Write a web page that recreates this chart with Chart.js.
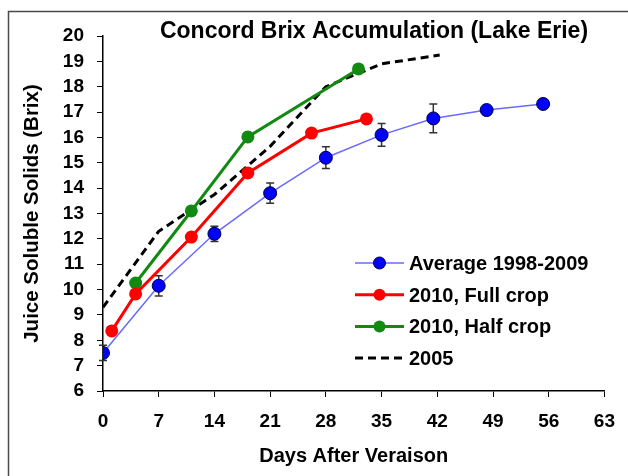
<!DOCTYPE html>
<html><head><meta charset="utf-8">
<script src="https://cdn.jsdelivr.net/npm/chart.js@4.4.1/dist/chart.umd.min.js"></script>
<style>html,body{margin:0;padding:0;background:#fff;}#wrap{width:628px;height:476px;position:relative;}</style>
</head><body><div id="wrap"><canvas id="c" width="628" height="476"></canvas></div>
<script>
const chartTitle = 'Concord Brix Accumulation (Lake Erie)';
const xAxisTitle = 'Days After Veraison';
const yAxisTitle = 'Juice Soluble Solids (Brix)';
const seriesNames = ['Average 1998-2009', '2010, Full crop', '2010, Half crop', '2005'];

const avgDays = [0, 7, 14, 21, 28, 35, 41.5, 48.2, 55.3];
const avgBrix = [7.5, 10.15, 12.2, 13.8, 15.2, 16.1, 16.75, 17.08, 17.32];
const avgErr  = [0.3, 0.4, 0.3, 0.4, 0.43, 0.45, 0.57, 0, 0];

const fullDays = [1.1, 4.1, 11.1, 18.2, 26.2, 33.1];
const fullBrix = [8.37, 9.83, 12.07, 14.6, 16.17, 16.73];

const halfDays = [4.1, 11.1, 18.2, 32.1];
const halfBrix = [10.26, 13.1, 16.02, 18.7];

const y2005Days = [0, 7, 14, 21, 28, 35, 42.3];
const y2005Brix = [9.3, 12.3, 13.75, 15.65, 18.0, 18.9, 19.25];

const xTicksMin = 0, xTicksMax = 63, xStep = 7;
const yTicksMin = 6, yTicksMax = 20, yStep = 1;

const FONT = "'Liberation Sans', Arial, sans-serif";
const pts = (xs, ys) => xs.map((x, i) => ({x: x, y: ys[i]}));

const frame = {
  id: 'frame',
  beforeDraw(chart) {
    const ctx = chart.ctx;
    ctx.save();
    ctx.fillStyle = '#fff';
    ctx.fillRect(0, 0, chart.width, chart.height);
    ctx.strokeStyle = '#4a4a4a';
    ctx.lineWidth = 1.5;
    ctx.strokeRect(8.5, 11.5, 700, 600);
    ctx.restore();
  }
};

const errorBars = {
  id: 'errorBars',
  beforeDatasetsDraw(chart) {
    const ctx = chart.ctx, xs = chart.scales.x, ys = chart.scales.y;
    ctx.save();
    ctx.strokeStyle = '#333';
    ctx.lineWidth = 1.5;
    avgDays.forEach((d, i) => {
      const e = avgErr[i];
      if (!e) return;
      const px = xs.getPixelForValue(d);
      const top = ys.getPixelForValue(avgBrix[i] + e);
      const bot = ys.getPixelForValue(avgBrix[i] - e);
      ctx.beginPath();
      ctx.moveTo(px, top); ctx.lineTo(px, bot);
      ctx.moveTo(px - 4, top); ctx.lineTo(px + 4, top);
      ctx.moveTo(px - 4, bot); ctx.lineTo(px + 4, bot);
      ctx.stroke();
    });
    ctx.restore();
  }
};

const titleAndLegend = {
  id: 'titleAndLegend',
  afterDraw(chart) {
    const ctx = chart.ctx;
    ctx.save();
    ctx.fillStyle = '#000';
    ctx.font = 'bold 23px ' + FONT;
    ctx.textAlign = 'center';
    ctx.textBaseline = 'alphabetic';
    ctx.fillText(chartTitle, 374, 38);

    const x0 = 355, x1 = 404, tx = 409, y0 = 263, dy = 31.7;
    chart.data.datasets.forEach((ds, i) => {
      const y = y0 + i * dy;
      ctx.save();
      ctx.strokeStyle = ds.borderColor;
      ctx.lineWidth = ds.borderWidth;
      ctx.setLineDash(ds.borderDash || []);
      ctx.beginPath(); ctx.moveTo(x0, y); ctx.lineTo(x1, y); ctx.stroke();
      ctx.setLineDash([]);
      if (ds.pointRadius > 0) {
        ctx.beginPath();
        ctx.arc((x0 + x1) / 2, y, ds.pointRadius - 0.5, 0, Math.PI * 2);
        ctx.fillStyle = ds.pointBackgroundColor;
        ctx.fill();
        if (ds.pointBorderWidth) {
          ctx.lineWidth = ds.pointBorderWidth;
          ctx.strokeStyle = ds.pointBorderColor;
          ctx.stroke();
        }
      }
      ctx.restore();
      ctx.font = 'bold 20px ' + FONT;
      ctx.textAlign = 'left';
      ctx.textBaseline = 'alphabetic';
      ctx.fillStyle = '#000';
      ctx.fillText(ds.label, tx, y + 7);
    });
    ctx.restore();
  }
};

new Chart(document.getElementById('c'), {
  type: 'scatter',
  data: {
    datasets: [
      {label: seriesNames[0], data: pts(avgDays, avgBrix), showLine: true,
       borderColor: '#6a6aff', borderWidth: 1.5, pointRadius: 6.5,
       pointBackgroundColor: '#0000ff', pointBorderColor: '#00003a', pointBorderWidth: 1},
      {label: seriesNames[1], data: pts(fullDays, fullBrix), showLine: true,
       borderColor: '#ff0000', borderWidth: 3, pointRadius: 6.5,
       pointBackgroundColor: '#ff0000', pointBorderColor: '#ff0000', pointBorderWidth: 0},
      {label: seriesNames[2], data: pts(halfDays, halfBrix), showLine: true,
       borderColor: '#128a12', borderWidth: 3, pointRadius: 6.5,
       pointBackgroundColor: '#128a12', pointBorderColor: '#128a12', pointBorderWidth: 0},
      {label: seriesNames[3], data: pts(y2005Days, y2005Brix), showLine: true,
       borderColor: '#000', borderWidth: 3, borderDash: [8, 5], pointRadius: 0,
       pointBackgroundColor: '#000', pointBorderWidth: 0}
    ]
  },
  options: {
    responsive: false, animation: false, devicePixelRatio: 1,
    layout: {padding: {left: 8, right: 19, top: 36, bottom: 4}},
    plugins: {legend: {display: false}, title: {display: false}, tooltip: {enabled: false}},
    elements: {line: {tension: 0}},
    scales: {
      x: {
        type: 'linear', min: xTicksMin, max: xTicksMax,
        ticks: {stepSize: xStep, autoSkip: false, color: '#000', padding: 13, maxRotation: 0,
                font: {family: FONT, size: 19, weight: 'bold'}},
        grid: {drawOnChartArea: false, drawTicks: true, tickLength: 6, color: '#000', lineWidth: 1},
        border: {color: '#000', width: 1.5},
        title: {display: true, text: xAxisTitle, color: '#000',
                font: {family: FONT, size: 20, weight: 'bold'}, padding: {top: 0, bottom: 4}},
        afterFit(s) { s.height = 81; }
      },
      y: {
        type: 'linear', min: yTicksMin, max: yTicksMax,
        ticks: {stepSize: yStep, autoSkip: false, color: '#000', padding: 13,
                font: {family: FONT, size: 19, weight: 'bold'}},
        grid: {drawOnChartArea: false, drawTicks: true, tickLength: 6, color: '#000', lineWidth: 1},
        border: {color: '#000', width: 1.5},
        title: {display: true, text: yAxisTitle, color: '#000',
                font: {family: FONT, size: 20.5, weight: 'bold'}, padding: {top: 12, bottom: 0}},
        afterFit(s) { s.width = 95; }
      }
    }
  },
  plugins: [frame, errorBars, titleAndLegend]
});
</script>
</body></html>
